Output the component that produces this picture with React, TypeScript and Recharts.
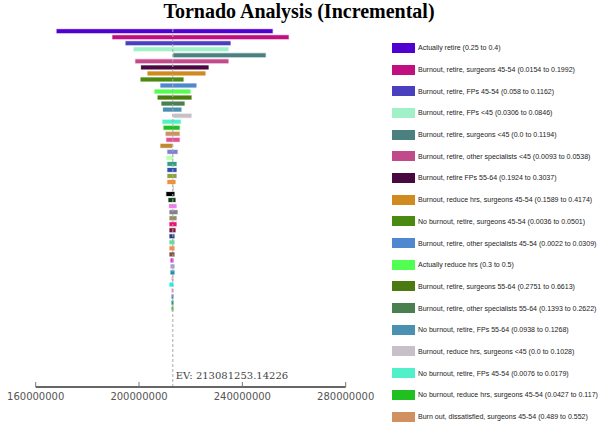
import React from 'react';
import { BarChart, Bar, XAxis, YAxis, Cell, ReferenceLine } from 'recharts';

// EV of the base case
const EV = 213081253.14226;

const legendLabels = [
  'Actually retire (0.25 to 0.4)',
  'Burnout, retire, surgeons 45-54 (0.0154 to 0.1992)',
  'Burnout, retire, FPs 45-54 (0.058 to 0.1162)',
  'Burnout, retire, FPs <45 (0.0306 to 0.0846)',
  'Burnout, retire, surgeons <45 (0.0 to 0.1194)',
  'Burnout, retire, other specialists <45 (0.0093 to 0.0538)',
  'Burnout, retire FPs 55-64 (0.1924 to 0.3037)',
  'Burnout, reduce hrs, surgeons 45-54 (0.1589 to 0.4174)',
  'No burnout, retire, surgeons 45-54 (0.0036 to 0.0501)',
  'Burnout, retire, other specialists 45-54 (0.0022 to 0.0309)',
  'Actually reduce hrs (0.3 to 0.5)',
  'Burnout, retire, surgeons 55-64 (0.2751 to 0.6613)',
  'Burnout, retire, other specialists 55-64 (0.1393 to 0.2622)',
  'No burnout, retire, FPs 55-64 (0.0938 to 0.1268)',
  'Burnout, reduce hrs, surgeons <45 (0.0 to 0.1028)',
  'No burnout, retire, FPs 45-54 (0.0076 to 0.0179)',
  'No burnout, reduce hrs, surgeons 45-54 (0.0427 to 0.117)',
  'Burn out, dissatisfied, surgeons 45-54 (0.489 to 0.552)',
];

// low / high outcome per variable, in millions
const lows = [
  167.9, 189.5, 194.6, 197.7, 213.08, 198.4, 200.6, 203.1, 200.4, 208.1,
  205.8, 207.0, 208.5, 209.1, 213.08, 208.9, 209.3, 210.1, 210.4, 208.1,
  210.8, 210.4, 210.8, 210.8, 210.8, 210.8, 212.9, 210.4, 211.2, 211.4,
  211.6, 211.6, 211.6, 211.6, 211.6, 211.6, 211.6, 211.6, 212.0, 212.0,
  212.0, 212.4, 211.6, 212.4, 212.4, 212.4, 212.4,
];
const highs = [
  251.9, 258.1, 235.6, 234.8, 249.2, 234.8, 227.1, 225.9, 217.4, 222.4,
  220.1, 220.5, 217.8, 216.6, 220.5, 216.3, 215.9, 215.9, 215.9, 213.08,
  215.1, 213.5, 214.7, 214.7, 214.7, 214.3, 213.5, 213.9, 214.3, 214.7,
  215.1, 214.7, 214.7, 214.3, 213.9, 213.9, 213.9, 213.9, 213.5, 213.9,
  213.9, 213.5, 213.5, 213.5, 213.5, 213.5, 213.5,
];

const colors = [
  '#5000d0', '#c0107f', '#4a3fbf', '#a0f0c8', '#4a8080', '#c04a8a', '#4a0840', '#d08a20', '#4a8a10', '#5088d0',
  '#50ff50', '#4a7a10', '#4a8050', '#4a90b0', '#c8c0c8', '#50f0c8', '#20c020', '#d09060', '#e05098', '#c08a30',
  '#8080d0', '#c0ffb0', '#30a080', '#3050b0', '#90a040', '#f09030', '#a0a0a0', '#000000', '#104010', '#f080f0',
  '#808090', '#909060', '#f01070', '#801040', '#204080', '#60e0a0', '#f09050', '#805040', '#e030e0', '#a0a0d0',
  '#2090b0', '#f0b0c0', '#20f0f0', '#f0a0d0', '#4080e0', '#209070', '#40c040',
];

const xTicks = [160000000, 200000000, 240000000, 280000000];

const data = lows.map((lo, i) => ({
  name: i < legendLabels.length ? legendLabels[i] : `Variable ${i + 1}`,
  low: lo * 1e6,
  high: highs[i] * 1e6,
}));

const TICK_MARGIN = 6;

const AxisTick = (props: any) => {
  const { x, y, payload } = props;
  const axisY = y - TICK_MARGIN;
  return (
    <g>
      <line x1={x} x2={x} y1={axisY - 5} y2={axisY} stroke="#777" strokeWidth={1} />
      <text x={x} y={y} dy="0.71em" textAnchor="middle" fill="#555"
        style={{ fontFamily: 'DejaVu Sans', fontSize: 10 }}>
        {payload.value}
      </text>
    </g>
  );
};

const EVLabel = (props: any) => {
  const vb = props.viewBox || {};
  return (
    <text x={vb.x + 3} y={vb.y + vb.height - 8} fill="#444"
      style={{ fontFamily: 'DejaVu Serif', fontSize: 10 }}>
      EV: {EV}
    </text>
  );
};

const LegendBox = () => (
  <div style={{
    position: 'absolute', left: 392, top: 37, width: 208,
    fontFamily: '"Liberation Sans", Arial, sans-serif', fontSize: 8, color: '#222',
  }}>
    {legendLabels.map((label, i) => (
      <div key={label} style={{ display: 'flex', alignItems: 'center', height: 21.7, whiteSpace: 'nowrap' }}>
        <span style={{ display: 'inline-block', flex: 'none', width: 23, height: 10, background: colors[i], marginRight: 3 }} />
        <span style={{ display: 'inline-block', transform: 'scaleX(0.88)', transformOrigin: 'left center' }}>{label}</span>
      </div>
    ))}
  </div>
);

export default function App() {
  return (
    <div style={{ position: 'absolute', left: 0, top: 0, width: 600, height: 441, background: '#fff' }}>
      <div style={{
        position: 'absolute', left: 0, top: 0, width: 598, textAlign: 'center',
        fontFamily: '"Liberation Serif", "Times New Roman", serif', fontWeight: 'bold', fontSize: 20, lineHeight: '22px', color: '#000',
      }}>
        Tornado Analysis (Incremental)
      </div>
      <BarChart
        width={600}
        height={441}
        data={data}
        layout="vertical"
        margin={{ top: 27.7, right: 254.3, left: 35.7, bottom: 24 }}
        barCategoryGap={0}
      >
        <XAxis
          type="number"
          domain={[160000000, 280000000]}
          ticks={xTicks}
          allowDataOverflow
          tickSize={0}
          tickMargin={TICK_MARGIN}
          tick={<AxisTick />}
          axisLine={{ stroke: '#666', strokeWidth: 2 }}
          tickLine={false}
          interval={0}
        />
        <YAxis type="category" dataKey="name" hide padding={{ top: 0, bottom: 75.8 }} />
        <Bar dataKey={(d: any) => [d.low, d.high]} barSize={5} isAnimationActive={false}>
          {data.map((d, i) => (
            <Cell key={d.name} fill={colors[i]} stroke="#fff" strokeWidth={0.8} />
          ))}
        </Bar>
        <ReferenceLine x={EV} stroke="#aaa" strokeDasharray="3 2" label={<EVLabel />} />
      </BarChart>
      <LegendBox />
    </div>
  );
}
